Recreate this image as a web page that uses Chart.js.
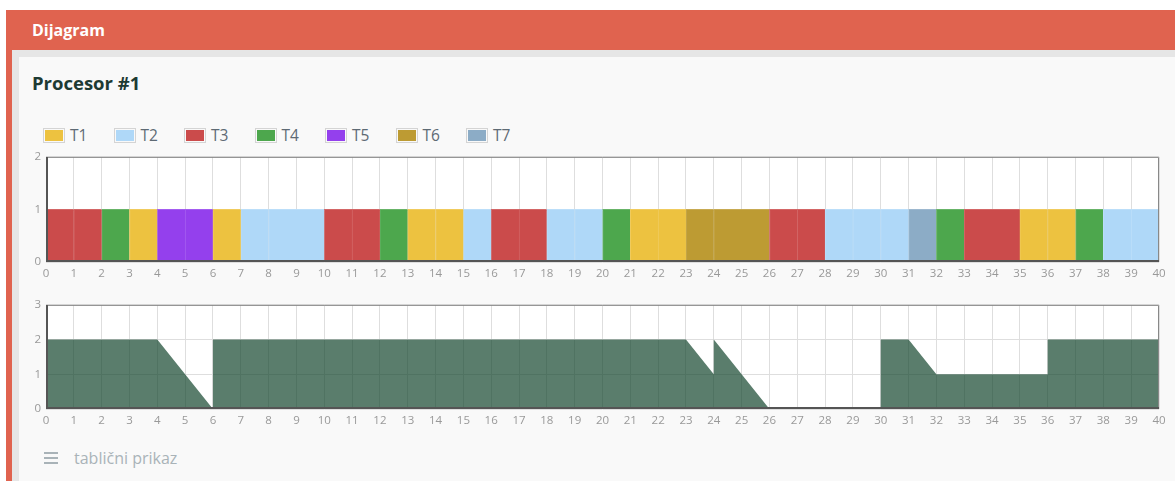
<!DOCTYPE html>
<html>
<head>
<meta charset="utf-8">
<script src="https://cdn.jsdelivr.net/npm/chart.js@4"></script>
<style>
  body { margin: 0; background: #fff; font-family: "Open Sans", sans-serif; overflow: hidden; }
  #crveno { position: absolute; left: 6px; top: 10px; right: 0; bottom: 0; background: #e0634f; }
  #naslov { position: absolute; left: 32px; top: 19px; color: #fff; font-weight: bold; font-size: 16px; }
  #okvir { position: absolute; left: 12px; top: 50px; right: 0; bottom: 0; background: #e6e6e6; }
  #panel { position: absolute; left: 19px; top: 57px; right: 0; bottom: 0; background: #f9f9f9; }
  #procesor { position: absolute; left: 32px; top: 70px; font-size: 18.5px; font-weight: bold; color: #1d3a33; }
  #legenda { position: absolute; left: 43px; top: 124px; display: flex; }
  .stavka { width: 70.5px; display: flex; align-items: center; font-size: 15.5px; color: #5e6a74; }
  .kutija { border: 1px solid #d4d4d4; padding: 1px; margin-right: 5px; }
  .boja { width: 18px; height: 11px; }
  #gore { position: absolute; left: 19px; top: 145px; width: 1156px; height: 137px; }
  #dole { position: absolute; left: 19px; top: 293px; width: 1156px; height: 136px; }
  #tabela { position: absolute; left: 44px; top: 447px; font-size: 16px; color: #a9b3b8; display: flex; align-items: center; }
  .ikona { width: 14px; height: 12px; margin-right: 16px; border-top: 2px solid #a9b3b8; border-bottom: 2px solid #a9b3b8; position: relative; box-sizing: border-box; }
  .ikona:after { content: ""; position: absolute; left: 0; right: 0; top: 3px; border-top: 2px solid #a9b3b8; }
</style>
</head>
<body>
<div id="crveno"></div>
<div id="naslov">Dijagram</div>
<div id="okvir"></div>
<div id="panel"></div>
<div id="procesor">Procesor #1</div>
<div id="legenda"></div>
<div id="gore"><canvas id="grafGore"></canvas></div>
<div id="dole"><canvas id="grafDole"></canvas></div>
<div id="tabela"><span class="ikona"></span>tablični prikaz</div>

<script>
// zadaci i boje
var zadaci = ["T1", "T2", "T3", "T4", "T5", "T6", "T7"];
var boje = ["#edc240", "#afd8f8", "#cb4b4b", "#4da74d", "#9440ed", "#bd9b33", "#8cacc6"];

// raspored na procesoru: pocetak, kraj, zadatak (indeks)
var pocetak = [0, 1, 2, 3, 4, 5, 6, 7, 8, 10, 11, 12, 13, 14, 15, 16, 17, 18, 19, 20, 21, 22, 23, 24, 26, 27, 28, 29, 30, 31, 32, 33, 35, 36, 37, 38, 39];
var kraj    = [1, 2, 3, 4, 5, 6, 7, 8, 10, 11, 12, 13, 14, 15, 16, 17, 18, 19, 20, 21, 22, 23, 24, 26, 27, 28, 29, 30, 31, 32, 33, 35, 36, 37, 38, 39, 40];
var zadatak = [2, 2, 3, 0, 4, 4, 0, 1, 1, 2, 2, 3, 0, 0, 1, 2, 2, 1, 1, 3, 0, 0, 5, 5, 2, 2, 1, 1, 1, 6, 3, 2, 0, 0, 3, 1, 1];

// drugi grafik (spremni zadaci)
var vrijemeX = [0, 4, 6, 6, 23, 24, 24, 26, 30, 30, 31, 32, 36, 36, 40];
var brojY    = [2, 2, 0, 2, 2, 1, 2, 0, 0, 2, 2, 1, 1, 2, 2];

var legenda = document.getElementById("legenda");
for (var i = 0; i < zadaci.length; i++) {
  legenda.innerHTML += '<div class="stavka"><span class="kutija"><div class="boja" style="background:' + boje[i] + '"></div></span>' + zadaci[i] + '</div>';
}

function svjetlija(hex) {
  var r = parseInt(hex.substr(1, 2), 16), g = parseInt(hex.substr(3, 2), 16), b = parseInt(hex.substr(5, 2), 16);
  return "rgb(" + Math.round(r + (255 - r) * 0.15) + "," + Math.round(g + (255 - g) * 0.15) + "," + Math.round(b + (255 - b) * 0.15) + ")";
}

var skupovi = [];
for (var t = 0; t < zadaci.length; t++) {
  var podaci = [];
  for (var j = 0; j < pocetak.length; j++) {
    if (zadatak[j] == t) podaci.push({ x: [pocetak[j], kraj[j]], y: 0.5 });
  }
  skupovi.push({
    label: zadaci[t],
    data: podaci,
    backgroundColor: boje[t],
    borderColor: svjetlija(boje[t]),
    borderWidth: { left: 1, top: 1, right: 0, bottom: 0 },
    borderSkipped: false,
    grouped: false,
    barPercentage: 1,
    categoryPercentage: 1
  });
}

var okvirPlugin = {
  id: "okvir",
  beforeDraw: function (chart) {
    var ctx = chart.ctx, a = chart.chartArea;
    ctx.save();
    ctx.fillStyle = "#fff";
    ctx.fillRect(a.left, a.top, a.right - a.left, a.bottom - a.top);
    ctx.restore();
  },
  afterDraw: function (chart) {
    var ctx = chart.ctx, a = chart.chartArea;
    ctx.save();
    ctx.strokeStyle = "#888";
    ctx.lineWidth = 1;
    ctx.beginPath();
    ctx.moveTo(a.left, a.top + 0.5);
    ctx.lineTo(a.right - 0.5, a.top + 0.5);
    ctx.lineTo(a.right - 0.5, a.bottom);
    ctx.stroke();
    ctx.strokeStyle = "#555";
    ctx.lineWidth = 2;
    ctx.beginPath();
    ctx.moveTo(a.left + 1, a.top);
    ctx.lineTo(a.left + 1, a.bottom - 1);
    ctx.lineTo(a.right, a.bottom - 1);
    ctx.stroke();
    ctx.restore();
  }
};

var fontOsi = { family: "'Open Sans', sans-serif", size: 11.5 };

function osaX() {
  return {
    type: "linear", min: 0, max: 40, offset: false,
    grid: { color: "#dedede", drawTicks: false, offset: false },
    border: { display: false },
    ticks: { stepSize: 1, color: "#999", font: fontOsi, padding: 5, maxRotation: 0, autoSkip: false },
    afterFit: function (s) { s.height = 20; }
  };
}
function osaY(max) {
  return {
    type: "linear", min: 0, max: max, offset: false,
    grid: { color: "#dedede", drawTicks: false, offset: false },
    border: { display: false },
    ticks: { stepSize: 1, color: "#999", font: fontOsi, padding: 5 },
    afterFit: function (s) { s.width = 27; }
  };
}

new Chart(document.getElementById("grafGore"), {
  type: "bar",
  data: { datasets: skupovi },
  options: {
    indexAxis: "y",
    responsive: true,
    maintainAspectRatio: false,
    animation: false,
    layout: { padding: { top: 11, right: 16, left: 0, bottom: 0 } },
    plugins: { legend: { display: false }, tooltip: { enabled: false } },
    scales: { x: osaX(), y: osaY(2) }
  },
  plugins: [okvirPlugin]
});

var tacke = [];
for (var k = 0; k < vrijemeX.length; k++) tacke.push({ x: vrijemeX[k], y: brojY[k] });

new Chart(document.getElementById("grafDole"), {
  type: "line",
  data: {
    datasets: [{
      label: "spremni",
      data: tacke,
      fill: "origin",
      backgroundColor: "rgba(20,70,45,0.7)",
      borderColor: "rgba(20,70,45,0.7)",
      borderWidth: 0,
      pointRadius: 0,
      tension: 0
    }]
  },
  options: {
    responsive: true,
    maintainAspectRatio: false,
    animation: false,
    layout: { padding: { top: 11, right: 16, left: 0, bottom: 0 } },
    plugins: { legend: { display: false }, tooltip: { enabled: false } },
    scales: { x: osaX(), y: osaY(3) }
  },
  plugins: [okvirPlugin]
});
</script>
</body>
</html>
